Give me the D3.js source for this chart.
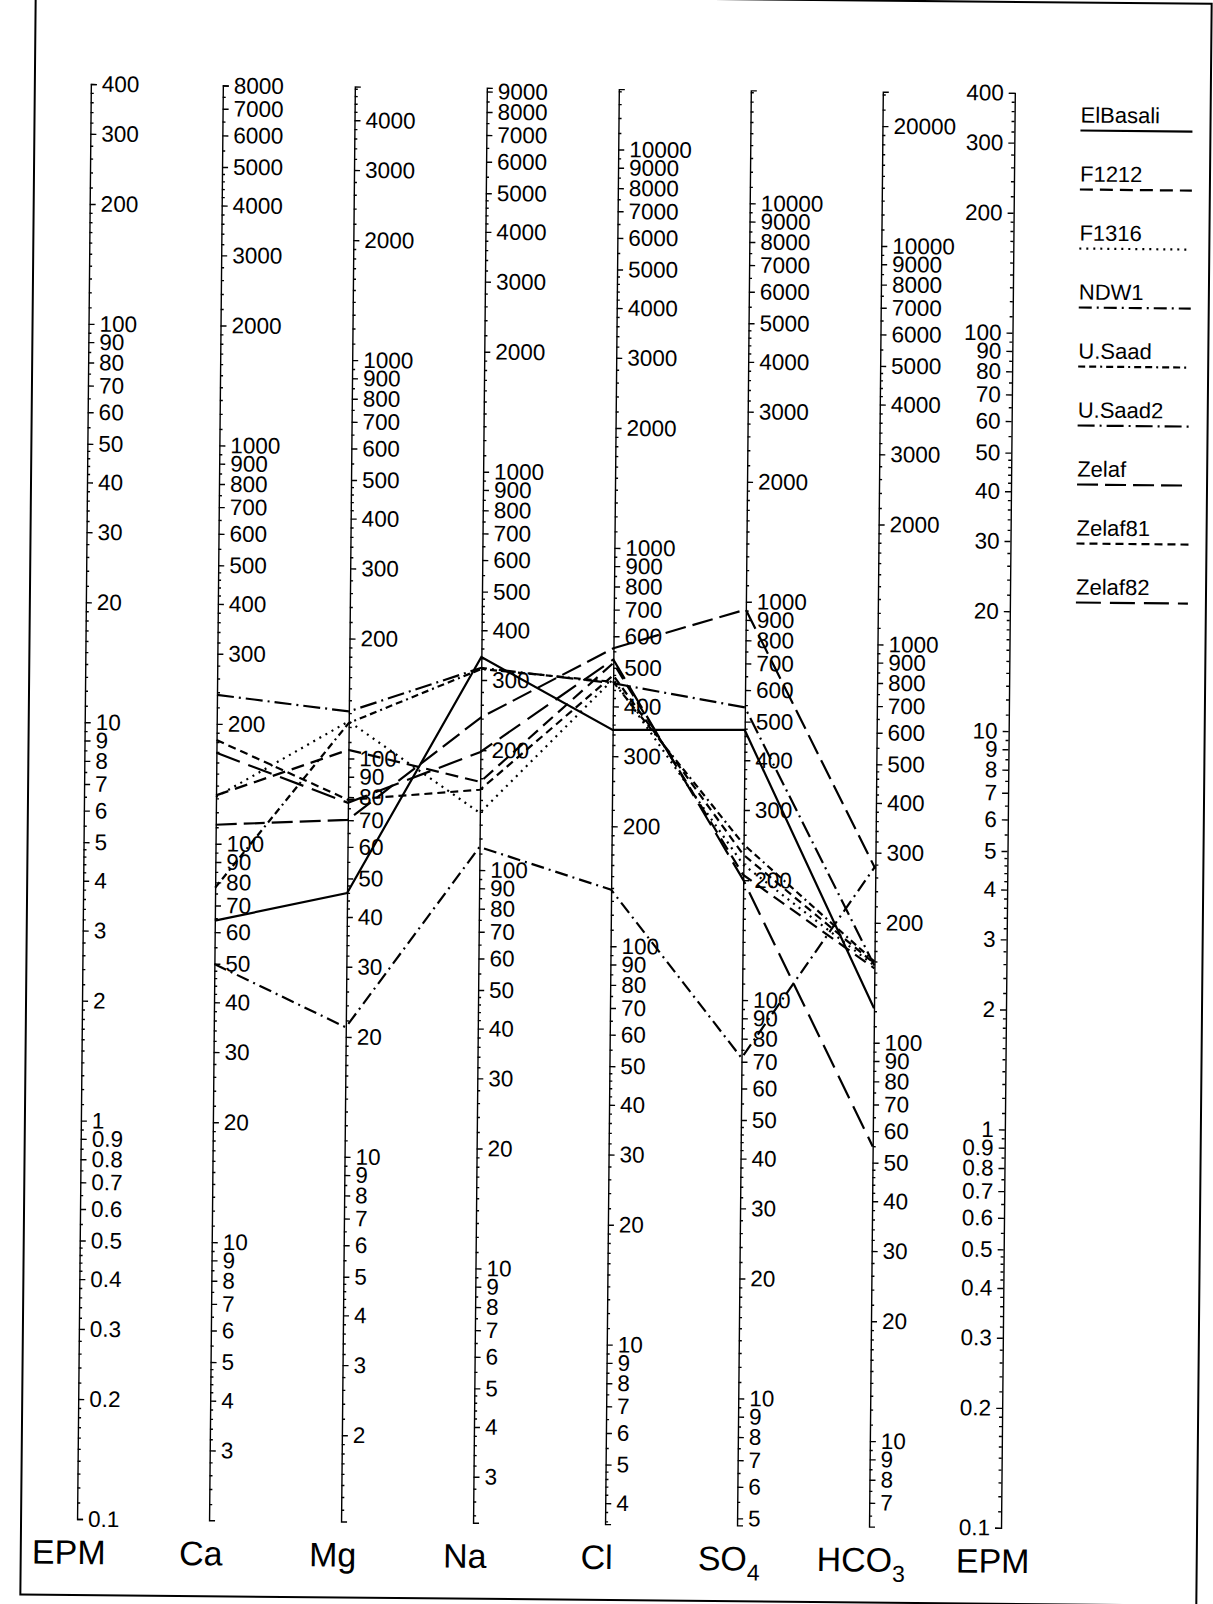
<!DOCTYPE html>
<html>
<head>
<meta charset="utf-8">
<script src="https://cdn.jsdelivr.net/npm/d3@7"></script>
<style>
  body { margin: 0; background: #fff; }
  text { font-family: "Liberation Sans", Arial, sans-serif; fill: #000; }
</style>
</head>
<body>
<div id="chart"></div>
<script>
// ions on the Schoeller diagram, with equivalent weights (mg/L per meq/L)
const ions = ["Ca", "Mg", "Na", "Cl", "SO4", "HCO3"];
const eqWeights = [20.04, 12.15, 22.99, 35.45, 48.03, 61.02];
// first and last labelled mg/L tick on each ion axis
const labelMin = [3, 2, 3, 4, 5, 7];
const labelMax = [8000, 4000, 9000, 10000, 10000, 20000];
const epmRange = [0.1, 400];

// samples, values in meq/L (EPM), order Ca Mg Na Cl SO4 HCO3
const samples = ["ElBasali", "F1212", "F1316", "NDW1", "U.Saad", "U.Saad2", "Zelaf", "Zelaf81", "Zelaf82"];
const elBasali = [3.20, 3.78, 14.9, 9.85, 9.92, 2.00];
const f1212    = [6.60, 8.65, 7.24, 14.5, 4.29, 2.52];
const f1316    = [6.54, 10.2, 6.05, 13.2, 4.55, 2.56];
const ndw1     = [2.49, 1.74, 4.97, 3.91, 1.49, 4.55];
const uSaad    = [3.87, 10.1, 13.9, 13.0, 5.12, 2.62];
const uSaad2   = [11.8, 10.8, 14.0, 12.9, 11.3, 2.56];
const zelaf    = [5.57, 5.77, 10.5, 15.8, 19.9, 4.48];
const zelaf81  = [9.09, 6.48, 6.92, 13.5, 4.82, 2.59];
const zelaf82  = [8.44, 6.37, 8.61, 14.8, 4.17, 0.90];
const seriesValues = [elBasali, f1212, f1316, ndw1, uSaad, uSaad2, zelaf, zelaf81, zelaf82];
const dashes = [null, "13,7", "2,5", "13,5,2,5", "7,4,7,4,2,4", "17,5,2,5", "21,7", "8,5", "25,9"];

const W = 1213, H = 1604;
const svg = d3.select("#chart").append("svg")
    .attr("width", W)
    .attr("height", H);

// the scanned page is slightly tilted
const g = svg.append("g").attr("transform", "rotate(0.55,606,800)");

g.append("rect")
    .attr("x", 28).attr("y", -2)
    .attr("width", 1176).attr("height", 1602)
    .attr("fill", "none").attr("stroke", "#000").attr("stroke-width", 2);

const x = d3.scalePoint()
    .domain(["EPM_L", ...ions, "EPM_R"])
    .range([84, 1008]);
const y = d3.scaleLog().domain(epmRange).range([1524, 89]);

function labelTicks(lo, hi) {
    const out = [];
    for (let e = -1; e <= 4; e++)
        for (let k = 1; k <= 9; k++) {
            const v = +(k * Math.pow(10, e)).toPrecision(3);
            if (v >= lo - 1e-9 && v <= hi + 1e-9) out.push(v);
        }
    return out;
}
function minorTicks(lo, hi) {
    const out = [];
    for (let e = -2; e <= 4; e++)
        for (let m = 10; m < 100; m += (m < 20 ? 1 : m < 50 ? 2 : 5)) {
            if (m % 10 === 0) continue;
            const v = +(m * Math.pow(10, e - 1)).toPrecision(4);
            if (v >= lo && v <= hi) out.push(v);
        }
    return out;
}

function drawAxis(key, scale, labels, left) {
    const ax = g.append("g").attr("transform", `translate(${x(key)},0)`);
    const mk = left ? d3.axisLeft : d3.axisRight;
    ax.append("g")
        .call(mk(scale).tickValues(minorTicks(scale.domain()[0], scale.domain()[1]))
            .tickSize(3).tickSizeOuter(0).tickFormat(""))
        .call(s => s.select(".domain").remove());
    ax.append("g")
        .call(mk(scale).tickValues(labels).tickSize(6).tickSizeOuter(6)
            .tickPadding(5).tickFormat(d => String(d)))
        .attr("font-size", 22.5)
        .attr("font-family", "Liberation Sans, Arial, sans-serif");
    ax.selectAll("path, line").attr("stroke", "#000").attr("stroke-width", 1.4);
}

// EPM axes on both sides
drawAxis("EPM_L", y, labelTicks(0.1, 400), false);
drawAxis("EPM_R", y, labelTicks(0.1, 400), true);

// mg/L axes, each aligned with the EPM scale
ions.forEach((ion, i) => {
    const s = d3.scaleLog()
        .domain([epmRange[0] * eqWeights[i], epmRange[1] * eqWeights[i]])
        .range([1524, 89]);
    drawAxis(ion, s, labelTicks(labelMin[i], labelMax[i]), false);
});

// sample lines
const line = d3.line().x(d => d[0]).y(d => d[1]);
seriesValues.forEach((vals, k) => {
    g.append("path")
        .datum(vals.map((v, i) => [x(ions[i]), y(v)]))
        .attr("d", line)
        .attr("fill", "none")
        .attr("stroke", "#000")
        .attr("stroke-width", 2.2)
        .attr("stroke-dasharray", dashes[k]);
});

// axis titles
const titles = [["EPM_L", "EPM", ""], ["Ca", "Ca", ""], ["Mg", "Mg", ""], ["Na", "Na", ""],
    ["Cl", "Cl", ""], ["SO4", "SO", "4"], ["HCO3", "HCO", "3"], ["EPM_R", "EPM", ""]];
titles.forEach(t => {
    const txt = g.append("text")
        .attr("x", x(t[0]) - 8)
        .attr("y", 1569)
        .attr("text-anchor", "middle")
        .attr("font-size", 34)
        .text(t[1]);
    if (t[2]) txt.append("tspan").attr("font-size", 23).attr("dy", 10).text(t[2]);
});

// legend
const legend = g.append("g");
samples.forEach((name, k) => {
    const ly = 126 + k * 59;
    legend.append("text")
        .attr("x", 1074).attr("y", ly - 8)
        .attr("font-size", 22)
        .text(name);
    legend.append("line")
        .attr("x1", 1074).attr("x2", 1186)
        .attr("y1", ly).attr("y2", ly)
        .attr("stroke", "#000").attr("stroke-width", 2.2)
        .attr("stroke-dasharray", dashes[k]);
});
</script>
</body>
</html>
